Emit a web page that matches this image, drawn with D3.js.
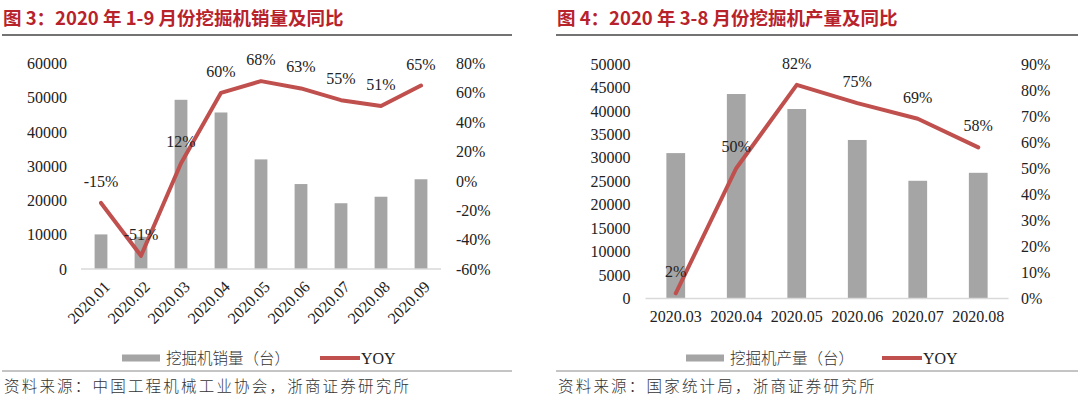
<!DOCTYPE html>
<html>
<head>
<meta charset="utf-8">
<script src="https://cdn.jsdelivr.net/npm/d3@7"></script>
<style>
  html, body { margin: 0; padding: 0; background: #fff; }
  svg { display: block; }
</style>
</head>
<body>
<div id="chart"></div>
<script>
// figure 3: monthly excavator sales, Jan-Sep 2020
const salesMonths = ["2020.01", "2020.02", "2020.03", "2020.04", "2020.05", "2020.06", "2020.07", "2020.08", "2020.09"];
const salesUnits = [10100, 9400, 49400, 45700, 32000, 24800, 19200, 21100, 26200];
const salesYoy = [-15, -51, 12, 60, 68, 63, 55, 51, 65];
const salesUnitTicks = [0, 10000, 20000, 30000, 40000, 50000, 60000];
const salesYoyTicks = [-60, -40, -20, 0, 20, 40, 60, 80];

// figure 4: monthly excavator output, Mar-Aug 2020
const outputMonths = ["2020.03", "2020.04", "2020.05", "2020.06", "2020.07", "2020.08"];
const outputUnits = [31000, 43600, 40400, 33800, 25100, 26800];
const outputYoy = [2, 50, 82, 75, 69, 58];
const outputUnitTicks = [0, 5000, 10000, 15000, 20000, 25000, 30000, 35000, 40000, 45000, 50000];
const outputYoyTicks = [0, 10, 20, 30, 40, 50, 60, 70, 80, 90];

const W = 1080, H = 405;
const BAR = "#a5a5a5", LINE = "#c0504d", RED = "#b8222b", INK = "#222";
const SERIF = "'Liberation Serif', 'Times New Roman', serif";
const CJK = "'Noto Sans CJK SC', 'Noto Sans', sans-serif";
const FS = 16;

const svg = d3.select("#chart").append("svg").attr("width", W).attr("height", H);

function panel(o) {
    const g = svg.append("g");

    // title + rules
    g.append("text").attr("x", o.left).attr("y", 25)
        .attr("font-family", CJK).attr("font-weight", 700).attr("font-size", 18.5)
        .attr("fill", RED).text(o.title);
    g.append("line").attr("x1", o.left - 1).attr("x2", o.right).attr("y1", 35).attr("y2", 35)
        .attr("stroke", "#444").attr("stroke-width", 1.3);
    g.append("line").attr("x1", o.left - 1).attr("x2", o.right).attr("y1", 371).attr("y2", 371)
        .attr("stroke", "#8a8a8a").attr("stroke-width", 1);
    g.append("text").attr("x", o.left + 1).attr("y", 392)
        .attr("font-family", CJK).attr("font-weight", 300).attr("font-size", 15.5)
        .attr("letter-spacing", 2.2).attr("fill", "#333").text(o.source);

    const x = d3.scaleBand().domain(o.cats).range(o.xr).paddingInner(o.pad).paddingOuter(o.pad / 2);
    const yL = d3.scaleLinear().domain(o.unitDom).range(o.yr);
    const yR = d3.scaleLinear().domain(o.yoyDom).range(o.yr);
    const cx = c => x(c) + x.bandwidth() / 2;

    const style = sel => {
        sel.select(".domain").remove();
        sel.selectAll("text").attr("font-family", SERIF).attr("font-size", FS).attr("fill", INK);
    };

    g.append("g").attr("transform", `translate(${o.xr[0]},0)`)
        .call(d3.axisLeft(yL).tickValues(o.unitTicks).tickSize(0).tickPadding(o.padL).tickFormat(d3.format("d")))
        .call(style);
    g.append("g").attr("transform", `translate(${o.xr[1]},0)`)
        .call(d3.axisRight(yR).tickValues(o.yoyTicks).tickSize(0).tickPadding(o.padR).tickFormat(d => d + "%"))
        .call(style);

    const xa = g.append("g").attr("transform", `translate(0,${o.yr[0]})`)
        .call(d3.axisBottom(x).tickSize(0).tickPadding(12))
        .call(style);
    if (o.rotate) {
        xa.selectAll(".tick text")
            .attr("x", 0).attr("y", 0).attr("dy", "0.35em")
            .attr("text-anchor", "end")
            .attr("transform", "translate(6,15) rotate(-45)");
    }

    g.selectAll("rect.bar").data(o.units).join("rect").attr("class", "bar")
        .attr("x", (d, i) => x(o.cats[i])).attr("width", x.bandwidth())
        .attr("y", d => yL(d)).attr("height", d => yL(0) - yL(d))
        .attr("fill", BAR);

    g.append("line").attr("x1", o.xr[0]).attr("x2", o.xr[1])
        .attr("y1", o.yr[0]).attr("y2", o.yr[0])
        .attr("stroke", "#d9d9d9").attr("stroke-width", 1.5);

    const line = d3.line().x((d, i) => cx(o.cats[i])).y(d => yR(d));
    g.append("path").datum(o.yoy).attr("d", line)
        .attr("fill", "none").attr("stroke", LINE).attr("stroke-width", 4)
        .attr("stroke-linejoin", "round").attr("stroke-linecap", "round");

    g.selectAll("text.lbl").data(o.yoy).join("text").attr("class", "lbl")
        .attr("x", (d, i) => cx(o.cats[i])).attr("y", d => yR(d) - 16)
        .attr("text-anchor", "middle").attr("font-family", SERIF).attr("font-size", FS)
        .attr("fill", INK).text(d => d + "%");

    // legend
    const lg = g.append("g").attr("transform", `translate(${o.legX},358)`);
    lg.append("rect").attr("x", 0).attr("y", -3.5).attr("width", 38).attr("height", 7).attr("fill", BAR);
    lg.append("text").attr("x", 44).attr("y", 0).attr("dy", "0.36em")
        .attr("font-family", CJK).attr("font-weight", 300).attr("font-size", 15.5).attr("fill", "#333")
        .text(o.barName);
    lg.append("line").attr("x1", o.legGap).attr("x2", o.legGap + 40).attr("y1", 0).attr("y2", 0)
        .attr("stroke", LINE).attr("stroke-width", 4);
    lg.append("text").attr("x", o.legGap + 41).attr("y", 0).attr("dy", "0.35em")
        .attr("font-family", SERIF).attr("font-size", FS).attr("fill", INK).text("YOY");
}

panel({
    title: "图 3：2020 年 1-9 月份挖掘机销量及同比",
    source: "资料来源：中国工程机械工业协会，浙商证券研究所",
    barName: "挖掘机销量（台）",
    left: 3, right: 512,
    cats: salesMonths, units: salesUnits, yoy: salesYoy,
    unitTicks: salesUnitTicks, yoyTicks: salesYoyTicks,
    unitDom: [0, 60000], yoyDom: [-60, 80],
    xr: [81, 441], yr: [269, 63.5], pad: 0.68,
    padL: 14, padR: 15, rotate: true,
    legX: 122, legGap: 198
});

panel({
    title: "图 4：2020 年 3-8 月份挖掘机产量及同比",
    source: "资料来源：国家统计局，浙商证券研究所",
    barName: "挖掘机产量（台）",
    left: 557, right: 1078,
    cats: outputMonths, units: outputUnits, yoy: outputYoy,
    unitTicks: outputUnitTicks, yoyTicks: outputYoyTicks,
    unitDom: [0, 50000], yoyDom: [0, 90],
    xr: [645.5, 1008.5], yr: [298.5, 64], pad: 0.69,
    padL: 15, padR: 12.5, rotate: false,
    legX: 686, legGap: 196
});
</script>
</body>
</html>
